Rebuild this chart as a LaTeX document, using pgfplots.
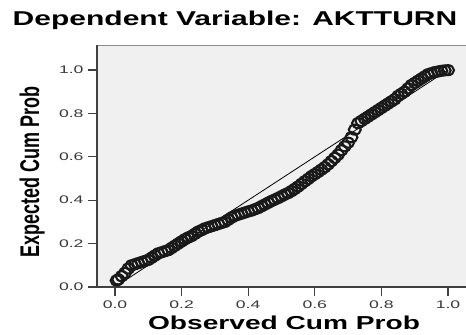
\documentclass[border=0pt]{standalone}
\usepackage{fontspec}
\setmainfont{Liberation Sans}
\newfontfamily\wbfont[FakeStretch=1.5]{Liberation Sans Bold}
\newfontfamily\ybfont{Liberation Sans Bold}
\newfontfamily\tickfont[FakeStretch=1.6]{Liberation Sans}
\usepackage{graphicx}
\usepackage{pgfplots}
\pgfplotsset{compat=1.18}
\definecolor{boxbg}{HTML}{F0F0F0}
\definecolor{ticktext}{HTML}{383838}
\begin{document}
\begin{tikzpicture}
\begin{axis}[
  scale only axis,
  width=369bp, height=242bp,
  xmin=-0.054, xmax=1.054,
  ymin=0, ymax=1.115,
  axis background/.style={fill=boxbg},
  axis line style={draw=black!45, line width=0.6bp},
  clip=false,
  xtick={0,0.2,0.4,0.6,0.8,1.0},
  ytick={0,0.2,0.4,0.6,0.8,1.0},
  xtick pos=bottom, ytick pos=left,
  tick align=outside,
  major tick length=9bp,
  tick style={draw=black!75, line width=1.2bp},
  /pgf/number format/assume math mode=true,
  /pgf/number format/fixed,
  /pgf/number format/fixed zerofill,
  /pgf/number format/precision=1,
  ticklabel style={font=\tickfont\fontsize{11bp}{13bp}\selectfont, text=ticktext},
  xticklabel style={yshift=-1bp},
  yticklabel style={xshift=-1bp},
  title={\wbfont\fontsize{20bp}{24bp}\selectfont Dependent Variable: AKTTURN},
  title style={at={(axis description cs:0.374,1.054)}, anchor=base, inner sep=0pt},
  xlabel={\wbfont\fontsize{18.75bp}{22bp}\selectfont Observed Cum Prob},
  xlabel style={at={(axis description cs:0.507,-0.176)}, anchor=base, inner sep=0pt},
  ylabel={\scalebox{1}[1.5]{\ybfont\fontsize{18bp}{22bp}\selectfont Expected Cum Prob}},
  ylabel style={at={(axis description cs:-0.176,0.475)}, anchor=center, rotate=0, inner sep=0pt},
]
\addplot[black, line width=0.8bp, no marks] coordinates {(0,0) (1,1)};
\addplot[only marks, mark=o, mark size=5bp, mark options={black!90, line width=2.1bp, xscale=1.2}] coordinates {
(0.005,0.030) (0.01,0.035) (0.02,0.050) (0.03,0.065) (0.04,0.085) (0.05,0.100)
(0.06,0.105) (0.07,0.110) (0.08,0.115) (0.09,0.120) (0.10,0.125)
(0.11,0.135) (0.12,0.145) (0.13,0.155) (0.14,0.160) (0.15,0.165)
(0.16,0.170) (0.17,0.180) (0.18,0.190) (0.19,0.200) (0.20,0.210)
(0.21,0.220) (0.22,0.228) (0.23,0.235) (0.24,0.245) (0.25,0.255)
(0.26,0.262) (0.27,0.270) (0.28,0.275) (0.29,0.280) (0.30,0.285)
(0.31,0.290) (0.32,0.295) (0.33,0.300) (0.34,0.310) (0.35,0.320)
(0.36,0.328) (0.37,0.333) (0.38,0.338) (0.39,0.343) (0.40,0.348)
(0.41,0.352) (0.42,0.358) (0.43,0.364) (0.44,0.372) (0.45,0.380)
(0.46,0.388) (0.47,0.396) (0.48,0.403) (0.49,0.410) (0.50,0.418)
(0.51,0.426) (0.52,0.433) (0.53,0.442) (0.54,0.452) (0.55,0.463)
(0.56,0.475) (0.57,0.487) (0.58,0.498) (0.59,0.510) (0.60,0.520)
(0.61,0.530) (0.62,0.541) (0.63,0.552) (0.64,0.565) (0.65,0.580)
(0.66,0.595) (0.67,0.610) (0.68,0.630) (0.69,0.648) (0.70,0.665)
(0.71,0.690) (0.72,0.725) (0.73,0.755) (0.74,0.765) (0.75,0.775)
(0.76,0.785) (0.77,0.795) (0.78,0.805) (0.79,0.815) (0.80,0.825)
(0.81,0.835) (0.82,0.845) (0.83,0.855) (0.84,0.865) (0.85,0.880)
(0.86,0.890) (0.87,0.900) (0.88,0.915) (0.89,0.930) (0.90,0.940)
(0.91,0.950) (0.92,0.960) (0.93,0.970) (0.94,0.980) (0.95,0.985)
(0.96,0.990) (0.97,0.993) (0.98,0.996) (0.99,0.998) (1.00,0.999)
};
\draw[black!75, line width=1.6bp] (rel axis cs:0,1) -- (rel axis cs:0,0) -- (rel axis cs:1,0);
\end{axis}
\pgfresetboundingbox
\path ([shift={(-97bp,-48bp)}]current axis.south west) rectangle ([shift={(0bp,45bp)}]current axis.north east);
\end{tikzpicture}
\end{document}
